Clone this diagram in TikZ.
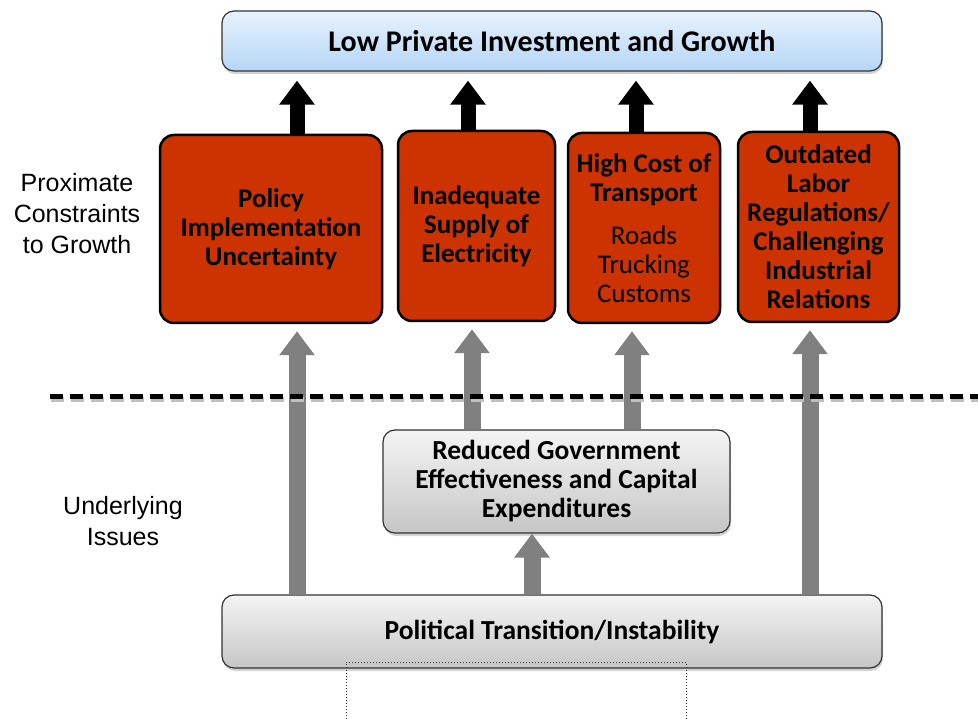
\documentclass[tikz,border=0pt]{standalone}
\usepackage{fontspec}
\setmainfont{Carlito}
\newfontfamily\sidefont{Liberation Sans}
\usetikzlibrary{arrows.meta,shadows}
\definecolor{brick}{HTML}{CC3300}
\definecolor{skytop}{HTML}{E8F2FC}
\definecolor{skybot}{HTML}{B5D6F6}
\definecolor{greytop}{HTML}{F4F4F4}
\definecolor{greybot}{HTML}{C6C6C6}
\definecolor{shaft}{HTML}{808080}

\begin{document}
\begin{tikzpicture}[x=1pt,y=-1pt,
  redbox/.style={draw=black,line width=2.5pt,fill=brick,rounded corners=14pt,align=center,inner sep=0pt,font=\fontsize{27}{29}\selectfont\bfseries},
  skybox/.style={draw=black!80,line width=1.2pt,top color=skytop,bottom color=skybot,rounded corners=12pt,align=center,inner sep=0pt,font=\fontsize{27.5}{29}\selectfont\bfseries,drop shadow={shadow xshift=1pt,shadow yshift=-3pt,opacity=0.35}},
  greybox/.style={skybox,top color=greytop,bottom color=greybot},
  sidetext/.style={align=center,font=\fontsize{25}{31}\selectfont\sidefont},
  uparrow/.style={line width=15pt,-{Triangle[width=34pt,length=24pt]}},
  greyarrow/.style={uparrow,draw=shaft,line width=17pt,shorten >=7pt},
]
\useasboundingbox (0,0) rectangle (978,719);
\node (top) at (552,41) [skybox,minimum width=660pt,minimum height=60pt,font=\fontsize{30}{32}\selectfont\bfseries] {Low Private Investment and Growth};
\node (pol) at (271,229) [redbox,minimum width=222pt,minimum height=188pt] {Policy\\Implementation\\Uncertainty};
\node (ele) at (476.5,226) [redbox,minimum width=157pt,minimum height=190pt] {Inadequate\\Supply of\\Electricity};
\node (tra) at (644,228) [redbox,minimum width=152pt,minimum height=190pt] {High Cost of\\Transport\\[14pt]{\mdseries Roads}\\{\mdseries Trucking}\\{\mdseries Customs}};
\node (lab) at (818.5,227) [redbox,minimum width=161pt,minimum height=190pt] {Outdated\\Labor\\Regulations/\\Challenging\\Industrial\\Relations};
\node (red) at (556.5,481.5) [greybox,minimum width=347pt,minimum height=103pt] {Reduced Government\\Effectiveness and Capital\\Expenditures};
\node (pts) at (552,631.5) [greybox,minimum width=660pt,minimum height=73pt] {Political Transition/Instability};
\node (prox) at (77,214) [sidetext] {Proximate\\Constraints\\to Growth};
\node (und) at (123,521) [sidetext] {Underlying\\Issues};
\foreach \xa/\nd in {297/pol,468/ele,636/tra,810/lab}
  \draw[uparrow,shorten >=9pt] (\xa,0 |- \nd.north) -- (\xa,0 |- top.south);
\foreach \xa/\nd in {297/pol,810/lab}
  \draw[greyarrow] (\xa,0 |- pts.north) -- (\xa,0 |- \nd.south);
\foreach \xa/\nd in {472/ele,632/tra}
  \draw[greyarrow] (\xa,0 |- red.north) -- (\xa,0 |- \nd.south);
\draw[greyarrow,shorten >=0pt] (532,0 |- pts.north) -- (532,0 |- red.south);
\draw[black!25,line width=5pt,dash pattern=on 13pt off 7pt] (51,400) -- (978,400);
\draw[line width=5pt,dash pattern=on 13pt off 7pt] (50,397) -- (978,397);
\draw[dotted,black!80,line width=1pt] (346,719) -- (346,662) -- (686,662) -- (686,719);
\end{tikzpicture}
\end{document}
